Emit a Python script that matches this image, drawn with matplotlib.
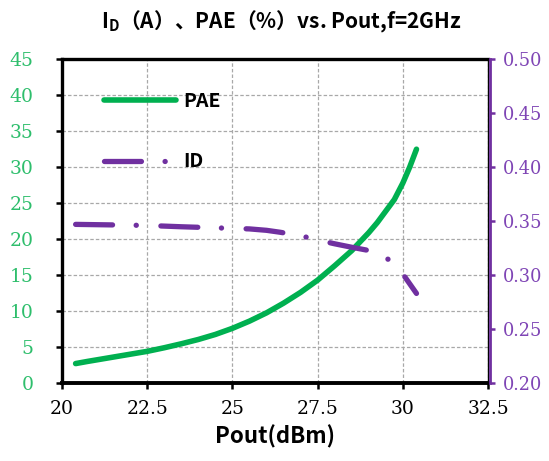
import matplotlib
matplotlib.use("Agg")
import matplotlib.pyplot as plt
from matplotlib.ticker import FixedLocator, FuncFormatter

# ---- data ----
pout_pae = [20.4, 20.75, 21.0, 21.5, 22.0, 22.5, 23.0, 23.5, 24.0, 24.5, 25.0,
            25.5, 26.0, 26.5, 27.0, 27.5, 28.0, 28.5, 29.0, 29.25, 29.5, 29.75,
            30.0, 30.2, 30.4]
pae = [2.7, 3.0, 3.2, 3.6, 4.0, 4.4, 4.9, 5.45, 6.05, 6.75, 7.6,
       8.6, 9.75, 11.1, 12.6, 14.3, 16.3, 18.4, 20.9, 22.3, 23.9, 25.5,
       27.8, 30.0, 32.5]

pout_id = [20.4, 21.5, 22.5, 23.5, 24.5, 25.5, 26.0, 26.4, 27.0, 27.5, 28.0, 28.5,
           29.0, 29.4, 29.7, 30.0, 30.2, 30.4]
id_a = [0.347, 0.3465, 0.346, 0.3448, 0.3438, 0.3428, 0.3415, 0.3397, 0.3365, 0.3325,
        0.3290, 0.3258, 0.3228, 0.318, 0.312, 0.301, 0.292, 0.283]

x_ticks = [20, 22.5, 25, 27.5, 30, 32.5]
x_tick_labels = ["20", "22.5", "25", "27.5", "30", "32.5"]
left_ticks = [0, 5, 10, 15, 20, 25, 30, 35, 40, 45]
right_ticks = [0.20, 0.25, 0.30, 0.35, 0.40, 0.45, 0.50]

GREEN = "#00B050"
PURPLE = "#7030A0"
GREEN_TXT = "#2EBE6C"
PURPLE_TXT = "#7F45B5"

plt.rcParams["lines.scale_dashes"] = False
plt.rcParams["font.family"] = "DejaVu Serif"
plt.rcParams["xtick.labelsize"] = 13.5
plt.rcParams["ytick.labelsize"] = 13.5
CJK = ["Noto Sans CJK SC", "DejaVu Sans"]

fig = plt.figure(figsize=(5.49, 4.61), dpi=100)
ax1 = fig.add_axes([0.1129, 0.1692, 0.7761, 0.7022])
ax2 = ax1.twinx()

l1, = ax1.plot(pout_pae, pae, color=GREEN, lw=4.0, solid_capstyle="round",
               solid_joinstyle="round", label="PAE")
l2, = ax2.plot(pout_id, id_a, color=PURPLE, lw=3.8, dash_capstyle="round",
               dash_joinstyle="round", dashes=(26.6, 17.0, 0.1, 17.7), label="ID")

ax1.set_xlim(20, 32.5)
ax1.set_ylim(0, 45)
ax2.set_ylim(0.2, 0.5)

ax1.xaxis.set_major_locator(FixedLocator(x_ticks))
ax1.set_xticklabels(x_tick_labels)
ax1.yaxis.set_major_locator(FixedLocator(left_ticks))
ax2.yaxis.set_major_locator(FixedLocator(right_ticks))
ax2.yaxis.set_major_formatter(FuncFormatter(lambda v, p: f"{v:.2f}"))

ax1.grid(True, color="#A8A8A8", lw=0.9, ls=(0, (2.5, 1.5)))
ax1.set_axisbelow(True)

ax1.tick_params(axis="x", direction="out", length=4.5, width=1.8, pad=8,
                colors="black")
ax1.tick_params(axis="y", direction="out", length=4.5, width=1.8, pad=16,
                colors="black", labelcolor=GREEN_TXT)
ax2.tick_params(axis="y", direction="out", length=3.5, width=1.8, pad=6,
                colors=PURPLE, labelcolor=PURPLE_TXT, labelsize=12.8)

for s in ["left", "top", "bottom"]:
    ax1.spines[s].set_linewidth(2.4)
    ax1.spines[s].set_color("black")
ax1.spines["bottom"].set_linewidth(2.8)
ax1.spines["right"].set_linewidth(1.0)
ax1.spines["right"].set_color("black")
for s in ["left", "top", "bottom"]:
    ax2.spines[s].set_visible(False)
ax2.spines["right"].set_color(PURPLE)
ax2.spines["right"].set_linewidth(2.0)
ax2.spines["right"].set_position(("outward", 1.5))

leg = ax2.legend(handles=[l1, l2], loc="upper left", bbox_to_anchor=(0.099, 0.90),
                 frameon=False, handlelength=3.7, handletextpad=0.35,
                 labelspacing=2.15, borderpad=0, borderaxespad=0,
                 prop={"family": CJK, "weight": "bold", "size": 14})

fig.text(0.513, 0.952, r"I$_\mathregular{D}$（A）、PAE（%）vs. Pout,f=2GHz",
         ha="center", va="center", fontsize=15, fontweight="bold", family=CJK)
ax1.set_xlabel("Pout(dBm)", fontsize=16, fontweight="bold", family=CJK, labelpad=5)

fig.savefig("out.png", dpi=100)
